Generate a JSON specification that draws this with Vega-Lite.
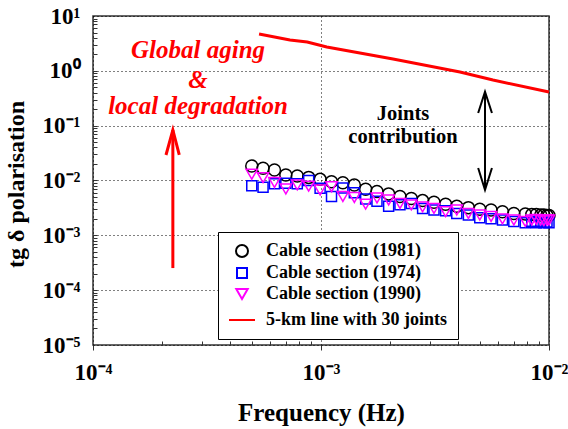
{
 "$schema": "https://vega.github.io/schema/vega-lite/v6.json",
 "width": 456, "height": 329,
 "autosize": {"type": "none"},
 "padding": {"left": 93, "top": 16, "right": 19, "bottom": 84},
 "config": {"view": {"stroke": "#333", "strokeWidth": 1.5}, "font": "Liberation Serif"},
 "datasets": {
  "line": [
   {"f": 0.000535, "v": 4.7}, {"f": 0.000731, "v": 3.65}, {"f": 0.00087, "v": 3.36}, {"f": 0.00106, "v": 2.72},
   {"f": 0.00207, "v": 1.64}, {"f": 0.00407, "v": 0.95}, {"f": 0.00568, "v": 0.68}, {"f": 0.01, "v": 0.41}
  ],
  "pts": [
   {"f": 0.000497, "v": 0.0184, "s": "Cable section (1981)"},
   {"f": 0.000557, "v": 0.0167, "s": "Cable section (1981)"},
   {"f": 0.000625, "v": 0.0155, "s": "Cable section (1981)"},
   {"f": 0.000701, "v": 0.0126, "s": "Cable section (1981)"},
   {"f": 0.000787, "v": 0.0121, "s": "Cable section (1981)"},
   {"f": 0.000883, "v": 0.0114, "s": "Cable section (1981)"},
   {"f": 0.000991, "v": 0.0105, "s": "Cable section (1981)"},
   {"f": 0.001112, "v": 0.0095, "s": "Cable section (1981)"},
   {"f": 0.001247, "v": 0.0091, "s": "Cable section (1981)"},
   {"f": 0.0014, "v": 0.0083, "s": "Cable section (1981)"},
   {"f": 0.00157, "v": 0.0069, "s": "Cable section (1981)"},
   {"f": 0.00176, "v": 0.0063, "s": "Cable section (1981)"},
   {"f": 0.00198, "v": 0.0057, "s": "Cable section (1981)"},
   {"f": 0.00222, "v": 0.0051, "s": "Cable section (1981)"},
   {"f": 0.00249, "v": 0.0047, "s": "Cable section (1981)"},
   {"f": 0.00279, "v": 0.0043, "s": "Cable section (1981)"},
   {"f": 0.00313, "v": 0.004, "s": "Cable section (1981)"},
   {"f": 0.00352, "v": 0.0037, "s": "Cable section (1981)"},
   {"f": 0.00394, "v": 0.0034, "s": "Cable section (1981)"},
   {"f": 0.00443, "v": 0.0032, "s": "Cable section (1981)"},
   {"f": 0.00497, "v": 0.003, "s": "Cable section (1981)"},
   {"f": 0.00557, "v": 0.0029, "s": "Cable section (1981)"},
   {"f": 0.00625, "v": 0.0027, "s": "Cable section (1981)"},
   {"f": 0.00701, "v": 0.0025, "s": "Cable section (1981)"},
   {"f": 0.00787, "v": 0.00245, "s": "Cable section (1981)"},
   {"f": 0.0084, "v": 0.0024, "s": "Cable section (1981)"},
   {"f": 0.0088, "v": 0.0024, "s": "Cable section (1981)"},
   {"f": 0.0092, "v": 0.00235, "s": "Cable section (1981)"},
   {"f": 0.0095, "v": 0.00235, "s": "Cable section (1981)"},
   {"f": 0.0098, "v": 0.0023, "s": "Cable section (1981)"},
   {"f": 0.01, "v": 0.0023, "s": "Cable section (1981)"},
   {"f": 0.000497, "v": 0.008, "s": "Cable section (1974)"},
   {"f": 0.000557, "v": 0.0075, "s": "Cable section (1974)"},
   {"f": 0.000625, "v": 0.0087, "s": "Cable section (1974)"},
   {"f": 0.000701, "v": 0.0089, "s": "Cable section (1974)"},
   {"f": 0.000787, "v": 0.0087, "s": "Cable section (1974)"},
   {"f": 0.000883, "v": 0.01, "s": "Cable section (1974)"},
   {"f": 0.000991, "v": 0.0072, "s": "Cable section (1974)"},
   {"f": 0.001112, "v": 0.0051, "s": "Cable section (1974)"},
   {"f": 0.001247, "v": 0.0073, "s": "Cable section (1974)"},
   {"f": 0.0014, "v": 0.006, "s": "Cable section (1974)"},
   {"f": 0.00157, "v": 0.0046, "s": "Cable section (1974)"},
   {"f": 0.00176, "v": 0.0042, "s": "Cable section (1974)"},
   {"f": 0.00198, "v": 0.0034, "s": "Cable section (1974)"},
   {"f": 0.00222, "v": 0.0036, "s": "Cable section (1974)"},
   {"f": 0.00249, "v": 0.0038, "s": "Cable section (1974)"},
   {"f": 0.00279, "v": 0.0031, "s": "Cable section (1974)"},
   {"f": 0.00313, "v": 0.0029, "s": "Cable section (1974)"},
   {"f": 0.00352, "v": 0.0028, "s": "Cable section (1974)"},
   {"f": 0.00394, "v": 0.0025, "s": "Cable section (1974)"},
   {"f": 0.00443, "v": 0.00235, "s": "Cable section (1974)"},
   {"f": 0.00497, "v": 0.0021, "s": "Cable section (1974)"},
   {"f": 0.00557, "v": 0.002, "s": "Cable section (1974)"},
   {"f": 0.00625, "v": 0.0019, "s": "Cable section (1974)"},
   {"f": 0.00701, "v": 0.00178, "s": "Cable section (1974)"},
   {"f": 0.00787, "v": 0.0017, "s": "Cable section (1974)"},
   {"f": 0.0084, "v": 0.0018, "s": "Cable section (1974)"},
   {"f": 0.0088, "v": 0.0017, "s": "Cable section (1974)"},
   {"f": 0.0092, "v": 0.0018, "s": "Cable section (1974)"},
   {"f": 0.0095, "v": 0.0017, "s": "Cable section (1974)"},
   {"f": 0.0098, "v": 0.00175, "s": "Cable section (1974)"},
   {"f": 0.01, "v": 0.0017, "s": "Cable section (1974)"},
   {"f": 0.000497, "v": 0.013, "s": "Cable section (1990)"},
   {"f": 0.000557, "v": 0.0113, "s": "Cable section (1990)"},
   {"f": 0.000625, "v": 0.0092, "s": "Cable section (1990)"},
   {"f": 0.000701, "v": 0.007, "s": "Cable section (1990)"},
   {"f": 0.000787, "v": 0.0083, "s": "Cable section (1990)"},
   {"f": 0.000883, "v": 0.0079, "s": "Cable section (1990)"},
   {"f": 0.000991, "v": 0.0067, "s": "Cable section (1990)"},
   {"f": 0.001112, "v": 0.0077, "s": "Cable section (1990)"},
   {"f": 0.001247, "v": 0.0051, "s": "Cable section (1990)"},
   {"f": 0.0014, "v": 0.0049, "s": "Cable section (1990)"},
   {"f": 0.00157, "v": 0.0037, "s": "Cable section (1990)"},
   {"f": 0.00176, "v": 0.0048, "s": "Cable section (1990)"},
   {"f": 0.00198, "v": 0.0044, "s": "Cable section (1990)"},
   {"f": 0.00222, "v": 0.0038, "s": "Cable section (1990)"},
   {"f": 0.00249, "v": 0.0036, "s": "Cable section (1990)"},
   {"f": 0.00279, "v": 0.0033, "s": "Cable section (1990)"},
   {"f": 0.00313, "v": 0.0031, "s": "Cable section (1990)"},
   {"f": 0.00352, "v": 0.0027, "s": "Cable section (1990)"},
   {"f": 0.00394, "v": 0.0029, "s": "Cable section (1990)"},
   {"f": 0.00443, "v": 0.0025, "s": "Cable section (1990)"},
   {"f": 0.00497, "v": 0.00235, "s": "Cable section (1990)"},
   {"f": 0.00557, "v": 0.0022, "s": "Cable section (1990)"},
   {"f": 0.00625, "v": 0.002, "s": "Cable section (1990)"},
   {"f": 0.00701, "v": 0.0019, "s": "Cable section (1990)"},
   {"f": 0.00787, "v": 0.0018, "s": "Cable section (1990)"},
   {"f": 0.0084, "v": 0.0019, "s": "Cable section (1990)"},
   {"f": 0.0088, "v": 0.00195, "s": "Cable section (1990)"},
   {"f": 0.0092, "v": 0.0019, "s": "Cable section (1990)"},
   {"f": 0.0095, "v": 0.00185, "s": "Cable section (1990)"},
   {"f": 0.0098, "v": 0.0019, "s": "Cable section (1990)"},
   {"f": 0.01, "v": 0.0019, "s": "Cable section (1990)"}
  ],
  "redText": [
   {"f": 0.000289, "v": 1.71, "t": "Global aging"},
   {"f": 0.000289, "v": 0.486, "t": "&"},
   {"f": 0.000289, "v": 0.163, "t": "local degradation"}
  ],
  "blackText": [
   {"f": 0.00229, "v": 0.1268, "t": "Joints"},
   {"f": 0.00229, "v": 0.0476, "t": "contribution"}
  ],
  "shafts": [
   {"f": 0.00524, "v1": 0.416, "v2": 0.00671, "c": "black"},
   {"f": 0.000224, "v1": 0.0834, "v2": 0.000253, "c": "red"}
  ],
  "heads": [
   {"g": "top", "o": 1, "f": 0.00489, "v": 0.170},
   {"g": "top", "o": 2, "f": 0.00524, "v": 0.416},
   {"g": "top", "o": 3, "f": 0.00562, "v": 0.170},
   {"g": "bot", "o": 1, "f": 0.00489, "v": 0.0169},
   {"g": "bot", "o": 2, "f": 0.00524, "v": 0.00671},
   {"g": "bot", "o": 3, "f": 0.00562, "v": 0.0169}
  ],
  "redHead": [
   {"g": "r", "o": 1, "f": 0.000209, "v": 0.0292},
   {"g": "r", "o": 2, "f": 0.000224, "v": 0.0834},
   {"g": "r", "o": 3, "f": 0.000239, "v": 0.0292}
  ]
 },
 "layer": [
  {
   "data": {"name": "line"},
   "mark": {"type": "line", "color": "#FF0000", "strokeWidth": 3},
   "encoding": {
    "x": {"field": "f", "type": "quantitative", "scale": {"type": "log", "domain": [0.0001, 0.01], "nice": false},
     "axis": {"orient": "bottom", "values": [0.0001, 0.001, 0.01], "title": "Frequency (Hz)", "domain": false,
      "grid": true, "gridColor": "black", "gridDash": [1, 3], "gridWidth": 1, "gridOpacity": 1,
      "ticks": true, "tickSize": 5, "tickColor": "#333", "tickWidth": 1,
      "labelExpr": "'10' + ['⁻⁵','⁻⁴','⁻³','⁻²','⁻¹','⁰','¹'][round(log(datum.value)/LN10)+5]",
      "labelFont": "Liberation Serif", "labelFontWeight": "bold", "labelFontSize": 23, "labelColor": "black", "labelPadding": 11, "labelFlush": false,
      "titleFont": "Liberation Serif", "titleFontWeight": "bold", "titleFontSize": 25, "titleColor": "black",
      "titleX": 228, "titleY": 75, "titleBaseline": "alphabetic", "titleAlign": "center"}},
    "y": {"field": "v", "type": "quantitative", "scale": {"type": "log", "domain": [0.00001, 10], "nice": false},
     "axis": {"orient": "left", "values": [0.00001, 0.0001, 0.001, 0.01, 0.1, 1, 10], "title": "tg δ polarisation", "domain": false,
      "grid": true, "gridColor": "black", "gridDash": [1, 3], "gridWidth": 1, "gridOpacity": 1,
      "ticks": false,
      "labelExpr": "'10' + ['⁻⁵','⁻⁴','⁻³','⁻²','⁻¹','⁰','¹'][round(log(datum.value)/LN10)+5]",
      "labelFont": "Liberation Serif", "labelFontWeight": "bold", "labelFontSize": 23, "labelColor": "black", "labelPadding": 13, "labelFlush": false,
      "titleFont": "Liberation Serif", "titleFontWeight": "bold", "titleFontSize": 24, "titleColor": "black",
      "titleX": -70, "titleY": 168, "titleBaseline": "alphabetic", "titleAlign": "center", "titleAngle": -90}}
   }
  },
  {
   "data": {"name": "pts"},
   "mark": {"type": "point", "filled": false, "strokeWidth": 1.5, "opacity": 1, "clip": false},
   "encoding": {
    "x": {"field": "f", "type": "quantitative",
     "axis": {"orient": "bottom", "values": [0.0002, 0.0003, 0.0004, 0.0005, 0.0006, 0.0007, 0.0008, 0.0009, 0.002, 0.003, 0.004, 0.005, 0.006, 0.007, 0.008, 0.009],
      "labels": false, "domain": false, "grid": false, "ticks": true, "tickSize": -4, "tickColor": "#333", "tickWidth": 1, "title": null}},
    "y": {"field": "v", "type": "quantitative",
     "axis": {"orient": "left", "values": [0.00002, 0.00003, 0.00004, 0.00005, 0.00006, 0.00007, 0.00008, 0.00009, 0.0001, 0.0002, 0.0003, 0.0004, 0.0005, 0.0006, 0.0007, 0.0008, 0.0009, 0.001, 0.002, 0.003, 0.004, 0.005, 0.006, 0.007, 0.008, 0.009, 0.01, 0.02, 0.03, 0.04, 0.05, 0.06, 0.07, 0.08, 0.09, 0.1, 0.2, 0.3, 0.4, 0.5, 0.6, 0.7, 0.8, 0.9, 1, 2, 3, 4, 5, 6, 7, 8, 9],
      "labels": false, "domain": false, "grid": false, "ticks": true, "tickSize": -4, "tickColor": "#333", "tickWidth": 1, "title": null}},
    "color": {"field": "s", "type": "nominal",
     "scale": {"domain": ["Cable section (1981)", "Cable section (1974)", "Cable section (1990)", "5-km line with 30 joints"], "range": ["black", "#0000FF", "#FF00FF", "#FF0000"]},
     "legend": {"orient": "none", "legendX": 125, "legendY": 216, "title": null, "fillColor": "white", "strokeColor": "black", "padding": 10,
      "labelFont": "Liberation Serif", "labelFontWeight": "bold", "labelFontSize": 18, "labelColor": "black", "labelOffset": 10, "rowPadding": 3, "symbolStrokeWidth": 2, "symbolOpacity": 1, "labelLimit": 300}},
    "shape": {"field": "s", "type": "nominal",
     "scale": {"domain": ["Cable section (1981)", "Cable section (1974)", "Cable section (1990)", "5-km line with 30 joints"], "range": ["circle", "square", "triangle-down", "stroke"]},
     "legend": {"orient": "none", "legendX": 125, "legendY": 216, "title": null, "fillColor": "white", "strokeColor": "black", "padding": 10,
      "labelFont": "Liberation Serif", "labelFontWeight": "bold", "labelFontSize": 18, "labelColor": "black", "labelOffset": 10, "rowPadding": 3, "symbolStrokeWidth": 2, "symbolOpacity": 1, "labelLimit": 300}},
    "size": {"field": "s", "type": "nominal",
     "scale": {"type": "ordinal", "domain": ["Cable section (1981)", "Cable section (1974)", "Cable section (1990)", "5-km line with 30 joints"], "range": [144, 100, 130, 676]},
     "legend": {"orient": "none", "legendX": 125, "legendY": 216, "title": null, "fillColor": "white", "strokeColor": "black", "padding": 10,
      "labelFont": "Liberation Serif", "labelFontWeight": "bold", "labelFontSize": 18, "labelColor": "black", "labelOffset": 10, "rowPadding": 3, "symbolStrokeWidth": 2, "symbolOpacity": 1, "labelLimit": 300}}
   }
  },
  {
   "data": {"name": "shafts"},
   "mark": {"type": "rule", "strokeWidth": 2, "color": "black"},
   "transform": [{"filter": "datum.c == 'black'"}],
   "encoding": {
    "x": {"field": "f", "type": "quantitative", "axis": null},
    "y": {"field": "v1", "type": "quantitative", "axis": null},
    "y2": {"field": "v2"}
   }
  },
  {
   "data": {"name": "shafts"},
   "mark": {"type": "rule", "strokeWidth": 3, "color": "#FF0000"},
   "transform": [{"filter": "datum.c == 'red'"}],
   "encoding": {
    "x": {"field": "f", "type": "quantitative", "axis": null},
    "y": {"field": "v1", "type": "quantitative", "axis": null},
    "y2": {"field": "v2"}
   }
  },
  {
   "data": {"name": "heads"},
   "mark": {"type": "line", "strokeWidth": 2, "color": "black"},
   "encoding": {
    "x": {"field": "f", "type": "quantitative", "axis": null},
    "y": {"field": "v", "type": "quantitative", "axis": null},
    "detail": {"field": "g"},
    "order": {"field": "o"}
   }
  },
  {
   "data": {"name": "redHead"},
   "mark": {"type": "line", "strokeWidth": 3, "color": "#FF0000"},
   "encoding": {
    "x": {"field": "f", "type": "quantitative", "axis": null},
    "y": {"field": "v", "type": "quantitative", "axis": null},
    "detail": {"field": "g"},
    "order": {"field": "o"}
   }
  },
  {
   "data": {"name": "redText"},
   "mark": {"type": "text", "font": "Liberation Serif", "fontWeight": "bold", "fontStyle": "italic", "fontSize": 25, "color": "#FF0000", "align": "center", "baseline": "alphabetic"},
   "encoding": {
    "x": {"field": "f", "type": "quantitative", "axis": null},
    "y": {"field": "v", "type": "quantitative", "axis": null},
    "text": {"field": "t"}
   }
  },
  {
   "data": {"name": "blackText"},
   "mark": {"type": "text", "font": "Liberation Serif", "fontWeight": "bold", "fontSize": 20.5, "color": "black", "align": "center", "baseline": "alphabetic"},
   "encoding": {
    "x": {"field": "f", "type": "quantitative", "axis": null},
    "y": {"field": "v", "type": "quantitative", "axis": null},
    "text": {"field": "t"}
   }
  }
 ],
 "resolve": {"axis": {"x": "independent", "y": "independent"}}
}
